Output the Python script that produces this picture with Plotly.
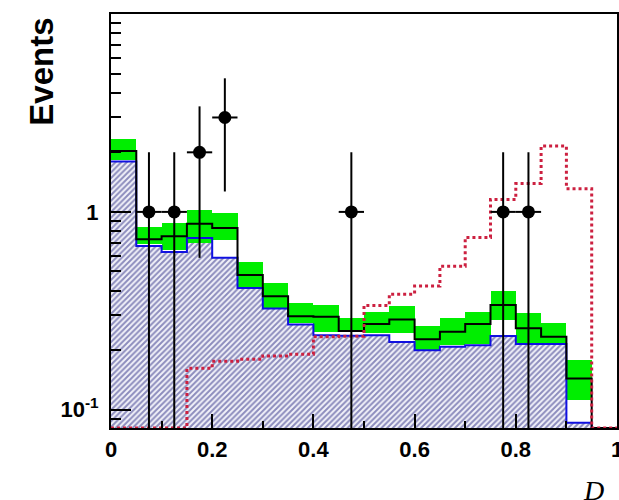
import numpy as np
import plotly.graph_objects as go

# Discriminant D, 20 bins of width 0.05 on [0, 1]
bin_edges = np.round(np.linspace(0.0, 1.0, 21), 4)
bin_centers = 0.5 * (bin_edges[:-1] + bin_edges[1:])
bin_width = 0.05

# expected background per bin
background = [1.80, 0.673, 0.628, 0.739, 0.586, 0.413, 0.325, 0.270, 0.238, 0.237,
              0.238, 0.220, 0.200, 0.208, 0.212, 0.236, 0.215, 0.215, 0.086, 0.0]
# total prediction and its uncertainty band
total = [2.03, 0.728, 0.754, 0.87, 0.83, 0.48, 0.375, 0.297, 0.295, 0.25,
         0.271, 0.286, 0.227, 0.248, 0.271, 0.338, 0.258, 0.234, 0.144, 0.0]
band_lo = [1.82, 0.687, 0.641, 0.695, 0.719, 0.418, 0.325, 0.273, 0.248, 0.248,
           0.243, 0.243, 0.200, 0.212, 0.216, 0.284, 0.216, 0.215, 0.112, 0.0]
band_hi = [2.33, 0.837, 0.877, 1.02, 0.985, 0.559, 0.435, 0.345, 0.338, 0.290,
           0.313, 0.334, 0.265, 0.290, 0.313, 0.399, 0.307, 0.273, 0.178, 0.0]
# signal template
signal = [0.0, 0.0, 0.0, 0.162, 0.176, 0.180, 0.187, 0.191, 0.234, 0.235,
          0.337, 0.384, 0.422, 0.532, 0.743, 1.155, 1.39, 2.15, 1.31, 0.0]
# observed events
data_x = [0.075, 0.125, 0.175, 0.225, 0.475, 0.775, 0.825]
data_n = [1, 1, 2, 3, 1, 1, 1]

Y_LOG_MIN, Y_LOG_MAX = -1.092, 1.0
y_floor = 10 ** Y_LOG_MIN


def step(values):
    v = [max(a, y_floor) for a in values]
    return list(bin_edges), v + [v[-1]]


fig = go.Figure()

# hatched background histogram
mask = [b > 0 for b in background]
fig.add_trace(go.Bar(
    x=[c for c, m in zip(bin_centers, mask) if m],
    y=[b for b, m in zip(background, mask) if m],
    width=bin_width,
    marker=dict(color="white", line=dict(width=0),
                pattern=dict(shape="/", fgcolor="#262680", bgcolor="#f2f2fa",
                             size=4, solidity=0.5)),
    hoverinfo="skip", showlegend=False,
))

# uncertainty band of the total prediction
bm = [h > 0 for h in band_hi]
fig.add_trace(go.Bar(
    x=[c for c, m in zip(bin_centers, bm) if m],
    base=[l for l, m in zip(band_lo, bm) if m],
    y=[h - l for h, l, m in zip(band_hi, band_lo, bm) if m],
    width=bin_width,
    marker=dict(color="#00ee00", line=dict(width=0)),
    hoverinfo="skip", showlegend=False,
))

# background outline
sx, sy = step(background)
fig.add_trace(go.Scatter(x=sx, y=sy, mode="lines", line_shape="hv",
                         line=dict(color="#1010e0", width=2),
                         hoverinfo="skip", showlegend=False))

# total prediction
sx, sy = step(total)
fig.add_trace(go.Scatter(x=sx, y=sy, mode="lines", line_shape="hv",
                         line=dict(color="black", width=2),
                         hoverinfo="skip", showlegend=False))

# signal
sx, sy = step(signal)
fig.add_trace(go.Scatter(x=sx, y=sy, mode="lines", line_shape="hv",
                         line=dict(color="#cc2040", width=3, dash="dot"),
                         hoverinfo="skip", showlegend=False))

# data with Poisson errors
err = [float(np.sqrt(n)) for n in data_n]
fig.add_trace(go.Scatter(
    x=data_x, y=data_n, mode="markers",
    marker=dict(color="black", size=13, symbol="circle"),
    error_y=dict(type="data", array=err, arrayminus=err, color="black",
                 thickness=2, width=0),
    error_x=dict(type="data", array=[bin_width / 2] * len(data_x),
                 color="black", thickness=2, width=0),
    hoverinfo="skip", showlegend=False,
))

tick_font = dict(family="Liberation Sans", size=22, color="black", weight="bold")

fig.update_layout(
    width=619, height=500,
    margin=dict(l=111, r=2, t=14, b=72, autoexpand=False),
    paper_bgcolor="white", plot_bgcolor="white",
    barmode="overlay", bargap=0,
    showlegend=False,
    xaxis=dict(
        range=[0, 1], showgrid=False, zeroline=False, automargin=False,
        showline=True, linecolor="black", linewidth=2, mirror=True,
        ticks="inside", ticklen=14, tickwidth=2, tickcolor="black",
        tickvals=[0, 0.2, 0.4, 0.6, 0.8, 1.0],
        ticktext=["0", "0.2", "0.4", "0.6", "0.8", "1"],
        minor=dict(ticks="inside", ticklen=7, tickwidth=2, tickcolor="black",
                   tickvals=[0.1, 0.3, 0.5, 0.7, 0.9], showgrid=False),
        tickfont=tick_font, ticklabelstandoff=1, ticklabeloverflow="allow",
    ),
    yaxis=dict(
        type="log", range=[Y_LOG_MIN, Y_LOG_MAX], showgrid=False, zeroline=False,
        automargin=False,
        showline=True, linecolor="black", linewidth=2, mirror=True,
        ticks="inside", ticklen=20, tickwidth=2, tickcolor="black",
        tickvals=[0.1, 1.0], ticktext=["10<sup>-1</sup>", "1"],
        minor=dict(ticks="inside", ticklen=10, tickwidth=2, tickcolor="black",
                   tickvals=[0.09, 0.2, 0.3, 0.4, 0.5, 0.6, 0.7, 0.8, 0.9,
                             2, 3, 4, 5, 6, 7, 8, 9], showgrid=False),
        tickfont=tick_font, ticklabelstandoff=6,
    ),
    annotations=[
        dict(text="Events", xref="paper", yref="paper", x=-0.138, y=0.861,
             xanchor="center", yanchor="middle", textangle=-90, showarrow=False,
             font=dict(family="Liberation Sans", size=33, color="black", weight="bold")),
        dict(text="<i>D</i>", xref="paper", yref="paper", x=0.978, y=-0.152,
             xanchor="right", yanchor="middle", showarrow=False,
             font=dict(family="Liberation Serif", size=28, color="black")),
    ],
)

fig.write_html("out.html")
